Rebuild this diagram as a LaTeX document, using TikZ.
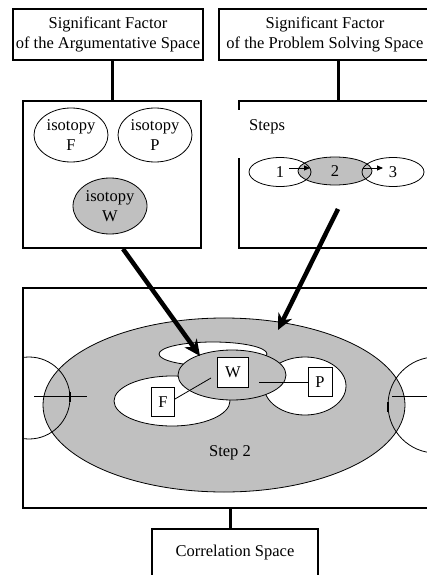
\documentclass[tikz,border=0pt]{standalone}
\usepackage{fontspec}
\setmainfont{Liberation Serif}
\usetikzlibrary{arrows.meta,shapes.geometric,calc}
\definecolor{stepgray}{HTML}{C0C0C0}

\begin{document}
\begin{tikzpicture}[x=1pt,y=-1pt,
    font=\fontsize{16.5}{20}\selectfont,
    frame/.style={draw,line width=1.9pt,inner sep=0pt},
    title/.style={frame,align=center,minimum height=51},
    link/.style={line width=3pt},
    oval/.style={draw,ellipse,inner sep=0pt,line width=0.8pt,align=center},
    tag/.style={draw,fill=white,line width=0.9pt,inner sep=0pt},
    thin/.style={line width=0.8pt},
    bigarrow/.style={line width=4.5pt,-{Stealth[length=16pt,width=15pt,inset=5pt]}},
    smallarrow/.style={line width=0.8pt,-{Triangle[length=6pt,width=5pt]}}]
  \useasboundingbox (0,0) rectangle (427,575);
  \clip (0,0) rectangle (427,575);
  % Titles
  \node[title,minimum width=190] (argTitle) at (108,34.5) {Significant Factor\\of the Argumentative Space};
  \node[title,minimum width=212] (probTitle) at (325,34.5) {Significant Factor\\of the Problem Solving Space};
  % Argumentative space
  \node[frame,minimum width=178,minimum height=147] (isoBox) at (112,174.5) {};
  \draw[link] (isoBox.north) -- (isoBox.north |- argTitle.south);
  \node[oval,minimum width=74,minimum height=54] (isoF) at (71,135) {isotopy\\F};
  \node[oval,minimum width=74,minimum height=54] (isoP) at (155,135) {isotopy\\P};
  \node[oval,fill=stepgray,minimum width=74,minimum height=56] (isoW) at (110,206) {isotopy\\W};
  % Problem solving space
  \node[frame,minimum width=198,minimum height=147] (stepsBox) at (338,174.5) {};
  \draw[link] (stepsBox.north) -- (stepsBox.north |- probTitle.south);
  \node[fill=white,anchor=north west,inner xsep=12pt,inner ysep=0pt,text height=20pt,text depth=28pt] (stepsLbl) at (237,110) {Steps};
  \node[oval,fill=stepgray,minimum width=74,minimum height=28] (s2) at (335,171) {2};
  \node[oval,minimum width=62,minimum height=29] (s1) at (280,172) {1};
  \node[oval,minimum width=62,minimum height=29] (s3) at (393,172) {3};
  \draw[smallarrow] ([xshift=9pt,yshift=4pt]s1.center) -- ++(21,0);
  \draw[smallarrow] ([xshift=28pt,yshift=3pt]s2.center) -- ++(20,0);
  % Step 2
  \node[frame,minimum width=420,minimum height=220] (bigBox) at (233,398) {};
  \draw[thin,fill=stepgray] (224,405) ellipse [x radius=181,y radius=87];
  \begin{scope}
    \clip (bigBox.south west) rectangle (bigBox.north east);
    \draw[thin] (29,398) circle [radius=41];
    \draw[thin] (436,405) circle [radius=48];
  \end{scope}
  \draw[thin] (34,396) -- (87,396);
  \draw[line width=1.6pt] (70,392) -- (70,402);
  \draw[thin] (392,396) -- (427,396);
  \draw[line width=1.6pt] (388,402) -- (388,412);
  \draw[thin,fill=white] (172,401) ellipse [x radius=58,y radius=25];
  \draw[thin,fill=white] (305,386) ellipse [x radius=41,y radius=29];
  \draw[thin,fill=white] (213,354) ellipse [x radius=54,y radius=12];
  \draw[thin,fill=stepgray] (232,375) ellipse [x radius=54,y radius=25];
  \node[tag,minimum width=31,minimum height=30] (tagW) at (233,372) {W};
  \node[tag,minimum width=23,minimum height=29] (tagF) at (163,402) {F};
  \node[tag,minimum width=24,minimum height=29] (tagP) at (320,382) {P};
  \coordinate (wLeft) at (211,378);
  \coordinate (wRight) at (259,382);
  \draw[thin] ([yshift=3pt]tagF.east) -- (wLeft);
  \draw[thin] (wRight) -- (tagP.west);
  \node (stepLbl) at (230,453) {Step 2};
  % Arrows into step 2
  \coordinate (tipW) at (200,356);
  \coordinate (tipStep) at (278,330);
  \draw[bigarrow] ([xshift=11pt]isoBox.south) -- (tipW);
  \draw[bigarrow] ([yshift=-34.5pt]stepsBox.center) -- (tipStep);
  % Correlation
  \node[frame,anchor=north,minimum width=166,text height=28pt,text depth=40pt] (corr) at (235,528) {Correlation Space};
  \draw[link] (bigBox.south -| stepLbl) -- (corr.north -| stepLbl);
\end{tikzpicture}
\end{document}
